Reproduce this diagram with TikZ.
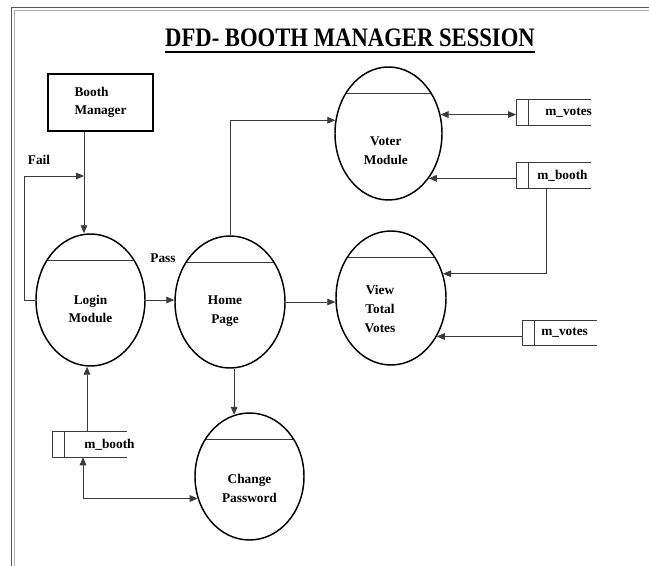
\documentclass[tikz,border=0pt]{standalone}
\usepackage{fontspec}
\setmainfont{Liberation Serif}
\usetikzlibrary{arrows.meta,shapes.geometric}
\definecolor{ln}{HTML}{3A3A3A}
\definecolor{frm}{HTML}{8A8A8A}
\newcommand{\lbfont}{\fontsize{10}{14}\selectfont\bfseries}
\tikzset{
  proc/.style={ellipse, draw=black, line width=1.1pt, inner sep=0pt, font=\lbfont, align=center,
    execute at begin node={\rule{0pt}{#1}},
    path picture={\draw[e] ([yshift=-19.5pt]path picture bounding box.north west) -- ([yshift=-19.5pt]path picture bounding box.north east);}},
  proc/.default=34pt,
  tleft/.style={execute at end node={\hspace{#1}}},
  ent/.style={rectangle, draw=black, line width=1.5pt, minimum width=78.75pt, minimum height=42.75pt, font=\lbfont, align=left},
  dst/.style={rectangle, minimum width=55.5pt, minimum height=18.75pt, inner sep=0pt, anchor=west},
  e/.style={draw=ln, line width=0.6pt},
  flow/.style={e, -{Triangle[length=6pt, width=5pt]}},
  both/.style={e, {Triangle[length=6pt, width=5pt]}-{Triangle[length=6pt, width=5pt]}},
  lbl/.style={font=\lbfont, inner sep=0pt},
  ttl/.style={font=\fontsize{20}{24}\selectfont\bfseries, inner sep=0pt, anchor=base},
}
\newcommand{\dstore}[4]{% name, west end, text offset, label
  \node[dst] (#1) at (#2) {};
  \draw[e] (#1.north east) -- (#1.north west) -- (#1.south west) -- (#1.south east);
  \draw[e] ([xshift=9.5pt]#1.north west) -- ([xshift=9.5pt]#1.south west);
  \node[lbl, anchor=west] (#1t) at ([xshift=#3]#1.west) {#4};
}

\begin{document}
\begin{tikzpicture}[x=0.75pt, y=-0.75pt]
\useasboundingbox (0,0) rectangle (649,566);

% ---------------- frame and title ----------------
\draw[line width=0.8pt, black!65] (11.5,566) -- (11.5,7.5) -- (649,7.5);
\draw[line width=0.8pt, frm!70] (14.5,566) -- (14.5,10.5) -- (649,10.5);
\node[ttl] (title) at (350,47) {\scalebox{0.85}[1]{DFD- BOOTH MANAGER SESSION}};
\draw[line width=1.5pt] ([yshift=-3.5pt]title.base west) -- ([yshift=-3.5pt]title.base east);

% ---------------- processes ----------------
\node[ent] (bm) at (100.5,102.5) {Booth\\Manager};
\node[proc=34.5pt, minimum width=81.75pt, minimum height=99pt] (login) at (90.5,300) {Login\\Module};
\node[proc=34pt, tleft=7.5pt, minimum width=82.5pt, minimum height=99pt] (home) at (230,302) {Home\\Page};
\node[proc=46.5pt, tleft=4pt, minimum width=80.25pt, minimum height=99.75pt] (voter) at (388.5,133.5) {Voter\\Module};
\node[proc=51.5pt, tleft=16.5pt, minimum width=82.5pt, minimum height=100.5pt] (view) at (391,298) {View\\Total\\Votes};
\node[proc=39pt, minimum width=81.75pt, minimum height=95.25pt] (change) at (249.5,476.5) {Change\\Password};

% ---------------- data stores ----------------
\dstore{mv1}{516,112.5}{21.75pt}{m\_votes}
\dstore{mb1}{516,175.5}{15.75pt}{m\_booth}
\dstore{mv2}{522,333}{14.25pt}{m\_votes}
\dstore{mb2}{52,444.5}{24pt}{m\_booth}

% ---------------- flows ----------------
\coordinate (bmout) at ([xshift=-12.4pt]bm.south);
\coordinate (failpt) at (84,176);
\draw[flow] (bmout) -- (bmout |- login.north);
\draw[flow] (login.west) -- ++(-11,0) |- (failpt);
\node[lbl] (fail) at (39,160) {Fail};
\draw[flow] (login.east) -- (login.east -| home.west);
\node[lbl] (pass) at (163,258) {Pass};
\draw[flow] (home.north) |- (voter.166);
\draw[flow] (home.east) -- (home.east -| view.west);
\draw[flow] (change.104 |- home.south) -- (change.104);
\draw[both] (voter.20) -- (voter.20 -| mv1.west);
\draw[flow] (voter.312 -| mb1.west) -- (voter.312);
\draw[flow] ([xshift=22.5pt]mb1.south west) |- (view.25);
\draw[flow] (view.320 -| mv2.west) -- (view.320);
\coordinate (mbup) at ([xshift=26.25pt]mb2.north west);
\draw[flow] (mbup) -- (mbup |- login.south);
\draw[both] ([xshift=23.25pt]mb2.south west) |- (change.203);
\end{tikzpicture}
\end{document}
